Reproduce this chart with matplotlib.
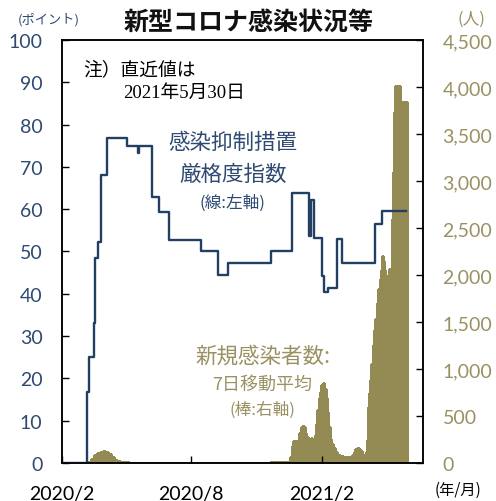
import numpy as np
import pandas as pd
import matplotlib
matplotlib.use("Agg")
import matplotlib.pyplot as plt

plt.rcParams['font.family'] = ['Noto Sans CJK JP', 'DejaVu Sans']

# stringency index (left axis), change points, held until next date
idx_dates = ['2020-02-01', '2020-03-07', '2020-03-10', '2020-03-17', '2020-03-18',
             '2020-03-19', '2020-03-22', '2020-03-27', '2020-04-04', '2020-05-03',
             '2020-05-18', '2020-05-19', '2020-06-07', '2020-06-16', '2020-07-01',
             '2020-08-14', '2020-09-07', '2020-09-21', '2020-11-21', '2020-12-21',
             '2021-01-14', '2021-01-17', '2021-01-21', '2021-02-01', '2021-02-03',
             '2021-02-10', '2021-02-22', '2021-03-01', '2021-04-17', '2021-04-26',
             '2021-05-30']
idx_vals = [0, 16.67, 25, 33, 41,
            48.4, 52.2, 68.1, 76.8, 74.9,
            73.2, 74.9, 63.0, 59.3, 52.8,
            50.0, 44.4, 47.2, 50.0, 63.8,
            53.7, 62.2, 53.2, 44.3, 40.5,
            41.4, 53.0, 47.2, 56.5, 59.5,
            59.5]

# new cases, 7-day average (right axis)
case_dates = ['2020-02-01', '2020-03-09', '2020-03-13', '2020-03-17', '2020-03-21',
              '2020-03-25', '2020-03-29', '2020-04-02', '2020-04-06', '2020-04-10',
              '2020-04-14', '2020-04-18', '2020-04-22', '2020-04-28', '2020-05-05',
              '2020-11-20', '2020-12-08', '2020-12-15', '2020-12-18', '2020-12-20',
              '2020-12-22', '2020-12-24', '2020-12-27', '2020-12-28', '2020-12-29',
              '2020-12-31', '2021-01-02', '2021-01-04', '2021-01-06', '2021-01-08',
              '2021-01-10', '2021-01-12', '2021-01-14', '2021-01-16', '2021-01-18',
              '2021-01-20', '2021-01-22', '2021-01-23', '2021-01-25', '2021-01-27',
              '2021-01-29', '2021-01-31', '2021-02-02', '2021-02-04', '2021-02-06',
              '2021-02-08', '2021-02-10', '2021-02-12', '2021-02-14', '2021-02-16',
              '2021-02-19', '2021-02-22', '2021-02-26', '2021-03-03', '2021-03-10',
              '2021-03-15', '2021-03-18', '2021-03-20', '2021-03-22', '2021-03-25',
              '2021-03-27', '2021-03-29', '2021-03-31', '2021-04-02', '2021-04-04',
              '2021-04-05', '2021-04-06', '2021-04-07', '2021-04-08', '2021-04-09',
              '2021-04-11', '2021-04-13', '2021-04-15', '2021-04-17', '2021-04-19',
              '2021-04-21', '2021-04-23', '2021-04-25', '2021-04-26', '2021-04-27',
              '2021-04-28', '2021-04-29', '2021-05-01', '2021-05-03', '2021-05-05',
              '2021-05-06', '2021-05-08', '2021-05-09', '2021-05-10', '2021-05-11',
              '2021-05-12', '2021-05-13', '2021-05-14', '2021-05-15', '2021-05-22',
              '2021-05-23', '2021-05-24', '2021-05-25', '2021-05-31']
case_vals = [2, 10, 40, 80, 105,
             122, 125, 120, 95, 60,
             35, 20, 12, 7, 4,
             8, 15, 8, 60, 180,
             230, 237, 235, 180, 220,
             320, 380, 390, 380, 320,
             275, 245, 237, 263, 250,
             237, 300, 420, 560, 690,
             760, 830, 851, 790, 690,
             540, 380, 255, 200, 155,
             120, 90, 71, 62, 60,
             80, 120, 145, 160, 150,
             131, 100, 70, 55, 120,
             250, 420, 600, 750, 880,
             1050, 1250, 1420, 1530, 1700,
             1850, 1960, 2050, 2150, 2206,
             2150, 2050, 1970, 1940, 2000,
             2064, 2040, 2030, 2300, 2600,
             3100, 3735, 3800, 4015, 3800,
             3128, 3600, 3838, 0]

xtick_dates = ['2020-02-01', '2020-08-01', '2021-02-01']
xtick_labels = ['2020/2', '2020/8', '2021/2']

navy = '#243F64'
navy_txt = '#2E4A72'
olive = '#948B54'
olive_txt = '#9A9162'

W, H = 496, 502
fig = plt.figure(figsize=(W / 100, H / 100), dpi=100)
ax = fig.add_axes([62 / W, 1 - 464 / H, (423 - 62) / W, (464 - 41) / H])
ax2 = ax.twinx()
ax.set_zorder(ax2.get_zorder() + 1)
ax.patch.set_visible(False)

cd = pd.to_datetime(case_dates)
widths = np.diff(cd).astype('timedelta64[h]').astype(float) / 24.0
ax2.bar(cd[:-1], case_vals[:-1], width=widths, align='edge', color=olive,
        edgecolor=olive, linewidth=0.8, antialiased=False)

ax.plot(pd.to_datetime(idx_dates), idx_vals, drawstyle='steps-post', color=navy, lw=1.7)

ax.set_ylim(0, 100)
ax.set_yticks(range(0, 101, 10))
ax2.set_ylim(0, 4500)
ax2.set_yticks(range(0, 4501, 500))
ax2.set_yticklabels([f'{v:,}' for v in range(0, 4501, 500)])
ax.set_xlim(pd.Timestamp('2020-02-01'), pd.Timestamp('2021-06-23'))
ax.set_xticks(pd.to_datetime(xtick_dates))
ax.set_xticklabels(xtick_labels)

ax.tick_params(axis='y', direction='in', length=5, width=1, pad=14, labelsize=14,
               labelcolor=navy_txt, labelfontfamily='Lato')
ax.tick_params(axis='x', direction='in', length=5, width=1, pad=16, labelsize=14,
               labelcolor='black', labelfontfamily='Lato')
ax2.tick_params(axis='y', direction='in', length=5, width=1, pad=14, labelsize=14,
                labelcolor=olive_txt, labelfontfamily='Lato')
for a in (ax, ax2):
    for s in a.spines.values():
        s.set_linewidth(1.1)
        s.set_color('black')


def px(x, y):
    return x / W, 1 - y / H


fig.text(*px(249, 23), '新型コロナ感染状況等', ha='center', va='center',
         fontsize=18, fontweight='bold', color='#111111')
fig.text(*px(49, 20), '(ポイント)', ha='center', va='center', fontsize=9.5, color=navy_txt)
fig.text(*px(471, 19), '(人)', ha='center', va='center', fontsize=12, color=olive_txt)
fig.text(*px(458, 490), '(年/月)', ha='center', va='center', fontsize=11, color='black')

fig.text(*px(83, 70), '注）直近値は', ha='left', va='center', fontsize=13.5, color='black')
fig.text(*px(123, 93), '2021年5月30日', ha='left', va='center', fontsize=13.5, color='black',
         family=['Liberation Serif', 'Noto Sans CJK JP'])

fig.text(*px(233, 143), '感染抑制措置', ha='center', va='center', fontsize=15.5, color=navy_txt)
fig.text(*px(233, 175), '厳格度指数', ha='center', va='center', fontsize=15.5, color=navy_txt)
fig.text(*px(232, 203), '(線:左軸)', ha='center', va='center', fontsize=12, color=navy_txt)

fig.text(*px(263, 357), '新規感染者数:', ha='center', va='center', fontsize=15.5, color=olive_txt)
fig.text(*px(262, 385), '7日移動平均', ha='center', va='center', fontsize=13, color=olive_txt)
fig.text(*px(262, 410), '(棒:右軸)', ha='center', va='center', fontsize=12, color=olive_txt)

fig.savefig('out.png', dpi=100)
